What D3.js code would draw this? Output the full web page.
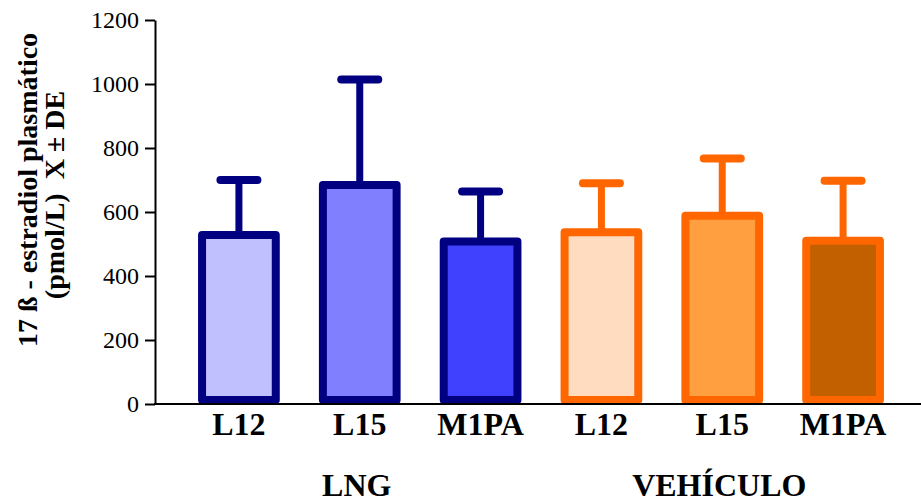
<!DOCTYPE html>
<html>
<head>
<meta charset="utf-8">
<script src="https://cdn.jsdelivr.net/npm/d3@7"></script>
<style>
  body { margin: 0; background: #fff; }
  svg { display: block; font-family: "Liberation Serif", "Times New Roman", serif; }
</style>
</head>
<body>
<div id="chart"></div>
<script>
var groups = ["LNG", "LNG", "LNG", "VEHÍCULO", "VEHÍCULO", "VEHÍCULO"];
var labels = ["L12", "L15", "M1PA", "L12", "L15", "M1PA"];
var means = [528, 684, 508, 537, 588, 510];
var sds = [172, 330, 156, 153, 179, 188];
var yTicks = [0, 200, 400, 600, 800, 1000, 1200];
var groupNames = ["LNG", "VEHÍCULO"];

var fills = ["#c0c0ff", "#8080ff", "#4040ff", "#ffdcbf", "#ff9f40", "#c26000"];
var strokeCol = { "LNG": "#000080", "VEHÍCULO": "#ff6600" };

var W = 921, H = 503;
var keys = labels.map(function(d, i) { return groups[i] + "-" + d; });

var svg = d3.select("#chart").append("svg")
  .attr("width", W)
  .attr("height", H);

var x = d3.scaleBand()
  .domain(keys)
  .range([178.5, 903.5])
  .paddingInner(0.39)
  .paddingOuter(0.195);

var y = d3.scaleLinear()
  .domain([0, 1200])
  .range([404, 20]);

// bars with error bars
var bar = svg.selectAll("g.bar")
  .data(keys)
  .enter()
  .append("g")
  .attr("class", "bar");

bar.append("line")
  .attr("x1", function(d) { return x(d) + x.bandwidth() / 2; })
  .attr("x2", function(d) { return x(d) + x.bandwidth() / 2; })
  .attr("y1", function(d, i) { return y(means[i]); })
  .attr("y2", function(d, i) { return y(means[i] + sds[i]); })
  .attr("stroke", function(d, i) { return strokeCol[groups[i]]; })
  .attr("stroke-width", 7);

bar.append("line")
  .attr("x1", function(d) { return x(d) + x.bandwidth() / 2 - 18.5; })
  .attr("x2", function(d) { return x(d) + x.bandwidth() / 2 + 18.5; })
  .attr("y1", function(d, i) { return y(means[i] + sds[i]); })
  .attr("y2", function(d, i) { return y(means[i] + sds[i]); })
  .attr("stroke", function(d, i) { return strokeCol[groups[i]]; })
  .attr("stroke-width", 8)
  .attr("stroke-linecap", "round");

bar.append("rect")
  .attr("x", function(d) { return x(d); })
  .attr("y", function(d, i) { return y(means[i]); })
  .attr("width", x.bandwidth())
  .attr("height", function(d, i) { return y(0) - 4 - y(means[i]); })
  .attr("fill", function(d, i) { return fills[i]; })
  .attr("stroke", function(d, i) { return strokeCol[groups[i]]; })
  .attr("stroke-width", 8)
  .attr("stroke-linejoin", "round");

// y axis
var yAxis = svg.append("g")
  .attr("transform", "translate(155,0)")
  .call(d3.axisLeft(y).tickValues(yTicks).tickFormat(d3.format("d"))
    .tickSize(10).tickSizeOuter(0).tickPadding(6));
yAxis.attr("font-family", null).attr("font-size", null);
yAxis.selectAll("path, line").attr("stroke", "#000").attr("stroke-width", 2);
yAxis.selectAll("text")
  .style("font-family", "'Liberation Serif', serif")
  .style("font-size", "24px")
  .attr("fill", "#000");

// x axis line
svg.append("line")
  .attr("x1", 154)
  .attr("x2", W)
  .attr("y1", y(0))
  .attr("y2", y(0))
  .attr("stroke", "#000")
  .attr("stroke-width", 2);

// category labels
svg.selectAll("text.cat")
  .data(keys)
  .enter()
  .append("text")
  .attr("class", "cat")
  .attr("x", function(d) { return x(d) + x.bandwidth() / 2; })
  .attr("y", 435)
  .attr("text-anchor", "middle")
  .attr("font-size", 32)
  .attr("font-weight", "bold")
  .text(function(d, i) { return labels[i]; });

// group labels
svg.selectAll("text.grp")
  .data(groupNames)
  .enter()
  .append("text")
  .attr("class", "grp")
  .attr("x", function(g) {
    var ks = keys.filter(function(k, i) { return groups[i] === g; });
    return (x(ks[0]) + x(ks[ks.length - 1]) + x.bandwidth()) / 2 - 3;
  })
  .attr("y", function(g, i) { return i === 0 ? 496 : 496; })
  .attr("text-anchor", "middle")
  .attr("font-size", 32)
  .attr("font-weight", "bold")
  .text(function(g) { return g; });

// y axis title
svg.append("text")
  .attr("transform", "translate(37,190) rotate(-90)")
  .attr("text-anchor", "middle")
  .attr("font-size", 28)
  .attr("font-weight", "bold")
  .text("17 ß - estradiol plasmático");

svg.append("text")
  .attr("transform", "translate(64,195) rotate(-90)")
  .attr("text-anchor", "middle")
  .attr("font-size", 28)
  .attr("font-weight", "bold")
  .style("white-space", "pre")
  .text("(pmol/L)  X ± DE");
</script>
</body>
</html>
